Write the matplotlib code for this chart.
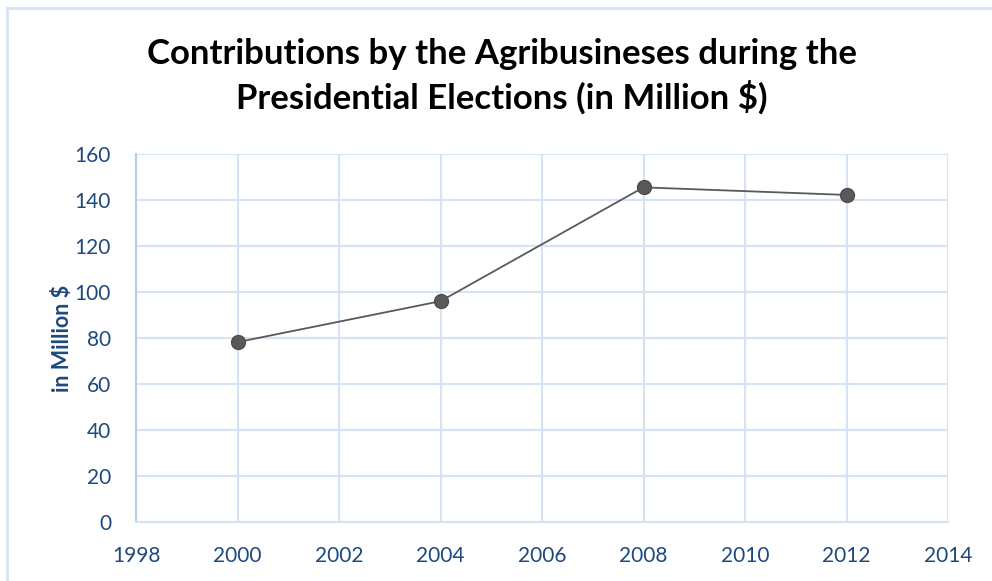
import matplotlib
matplotlib.use("Agg")
import matplotlib.pyplot as plt
from matplotlib.patches import Rectangle

# Agribusiness contributions per presidential election year
years = [2000, 2004, 2008, 2012]
contributions = [78.2, 96.0, 145.5, 142.2]

x_ticks = [1998, 2000, 2002, 2004, 2006, 2008, 2010, 2012, 2014]
y_ticks = [0, 20, 40, 60, 80, 100, 120, 140, 160]

title = "Contributions by the Agribusineses during the\nPresidential Elections (in Million $)"
y_label = "in Million $"

text_blue = "#1f497d"
grid_blue = "#d6e3f4"

plt.rcParams["font.family"] = ["Lato", "DejaVu Sans"]

fig = plt.figure(figsize=(9.92, 5.81), dpi=100)

# thin frame around the chart area
fig.patches.append(Rectangle((7 / 992, -0.1), 1.2, 1 - 8 / 581 + 0.1,
                             transform=fig.transFigure, fill=False,
                             edgecolor=grid_blue, linewidth=2))

ax = fig.add_axes([136 / 992, 1 - 522 / 581, 812 / 992, 368 / 581])
ax.plot(years, contributions, color="#595959", linewidth=1.3,
        marker="o", markersize=10, markerfacecolor="#595959",
        markeredgecolor="#4d4d4d", zorder=3)

ax.set_xlim(1998, 2014)
ax.set_ylim(0, 160)
ax.set_xticks(x_ticks)
ax.set_yticks(y_ticks)
ax.grid(True, color=grid_blue, linewidth=1.5)
ax.set_axisbelow(True)

for side in ["top", "right"]:
    ax.spines[side].set_visible(False)
ax.spines["left"].set_color("#b4cdec")
ax.spines["left"].set_linewidth(1.5)
ax.spines["bottom"].set_color(grid_blue)
ax.spines["bottom"].set_linewidth(1.5)

ax.tick_params(axis="both", length=0, labelsize=15, labelcolor=text_blue)
ax.tick_params(axis="x", pad=17)
ax.tick_params(axis="y", pad=18)

ax.set_ylabel(y_label, fontsize=15.5, fontweight="bold", color=text_blue, labelpad=1)

fig.text(0.506, 1 - 76 / 581, title, ha="center", va="center",
         fontsize=25, fontweight="bold", color="black", linespacing=1.35)

fig.savefig("out.png", dpi=100)
